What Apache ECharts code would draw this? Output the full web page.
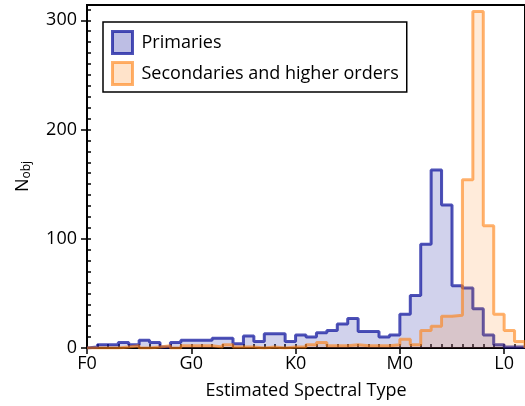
<!DOCTYPE html>
<html>
<head>
<meta charset="utf-8">
<script src="https://cdn.jsdelivr.net/npm/echarts@6/dist/echarts.min.js"></script>
<style>
html,body{margin:0;padding:0;background:#fff;}
#c{width:525px;height:406px;}
</style>
</head>
<body>
<div id="c"></div>
<script>
// Spectral subtype bins: F0 = 0, G0 = 10, K0 = 20, M0 = 30, L0 = 40 (1 subtype per bin)
const tickValues = [0, 10, 20, 30, 40];
const tickLabels = ['F0', 'G0', 'K0', 'M0', 'L0'];
const binStart = 0;
const binWidth = 1;
const primaries = [1, 3, 3, 5, 3, 7, 5, 1, 5, 7, 7, 7, 9, 9, 4, 11, 6, 13, 13, 6,
  12, 10, 14, 16, 22, 27, 15, 15, 10, 12, 31, 48, 95, 163, 131, 57, 55, 36, 12, 3, 1, 1];
const secondaries = [0, 0, 0, 1, 2, 0, 1, 2, 0, 2, 2, 2, 1, 3, 1, 1, 0, 1, 0, 1,
  1, 3, 5, 2, 2, 3, 2, 2, 2, 3, 8, 3, 16, 20, 29, 30, 154, 308, 112, 31, 16, 6];
const seriesNames = ['Primaries', 'Secondaries and higher orders'];

function stepData(vals) {
  const pts = [[binStart, 0]];
  vals.forEach((v, i) => pts.push([binStart + i * binWidth, v]));
  pts.push([binStart + vals.length * binWidth, 0]);
  return pts;
}

const FONT = 'Open Sans';
const FS = 18;
const BLUE_LINE = 'rgba(10,15,155,0.72)';
const BLUE_FILL = 'rgba(10,15,155,0.27)';
const ORANGE_LINE = 'rgba(255,127,14,0.6)';
const ORANGE_FILL = 'rgba(255,127,14,0.22)';
const chart = echarts.init(document.getElementById('c'));
const labelMap = {};
tickValues.forEach((v, i) => labelMap[v] = tickLabels[i]);

chart.setOption({
  animation: false,
  textStyle: { fontFamily: FONT },
  grid: { left: 87, top: 5, width: 439, height: 343, show: true, borderColor: '#000', borderWidth: 2, backgroundColor: 'transparent' },
  legend: {
    orient: 'vertical', left: 103, top: 22,
    borderColor: '#000', borderWidth: 1.5, borderRadius: 0,
    padding: [8, 8, 6, 8], itemGap: 6, itemWidth: 20, itemHeight: 22,
    textStyle: { fontSize: FS, lineHeight: 22, color: '#000', fontFamily: FONT, padding: [0, 0, 0, 4] },
    data: [
      { name: seriesNames[0], icon: 'rect', itemStyle: { color: BLUE_FILL, borderColor: BLUE_LINE, borderWidth: 3 } },
      { name: seriesNames[1], icon: 'rect', itemStyle: { color: ORANGE_FILL, borderColor: ORANGE_LINE, borderWidth: 3 } }
    ]
  },
  xAxis: [{
    type: 'value', min: 0, max: 42, interval: 10,
    name: 'Estimated Spectral Type', nameLocation: 'middle', nameGap: 34,
    nameTextStyle: { fontSize: FS, color: '#000', fontFamily: FONT },
    axisLine: { lineStyle: { color: '#000', width: 2 } },
    axisTick: { show: true, length: 6, lineStyle: { color: '#000', width: 1.5 } },
    axisLabel: { fontSize: FS, color: '#000', margin: 7, fontFamily: FONT, formatter: v => labelMap[v] || '', showMaxLabel: false },
    splitLine: { show: false }
  }, {
    type: 'value', min: 0, max: 42, interval: 1, position: 'bottom',
    axisLine: { show: false },
    axisTick: { show: true, inside: true, length: 4, lineStyle: { color: '#000', width: 1.5 } },
    axisLabel: { show: false }, splitLine: { show: false }
  }],
  yAxis: [{
    type: 'value', min: 0, max: 314, interval: 100,
    name: 'N{sub|obj}', nameLocation: 'middle', nameGap: 54, nameRotate: 90,
    nameTextStyle: { fontSize: FS, color: '#000', fontFamily: FONT, rich: { sub: { fontSize: 12, verticalAlign: 'bottom', padding: [8, 0, 0, 0], fontFamily: FONT } } },
    axisLine: { show: true, lineStyle: { color: '#000', width: 2 } },
    axisTick: { show: true, length: 6, lineStyle: { color: '#000', width: 1.5 } },
    axisLabel: { fontSize: FS, color: '#000', margin: 10, fontFamily: FONT, showMaxLabel: false },
    splitLine: { show: false }
  }, {
    type: 'value', min: 0, max: 314, interval: 10, position: 'left',
    axisLine: { show: false },
    axisTick: { show: true, inside: true, length: 4, lineStyle: { color: '#000', width: 1.5 } },
    axisLabel: { show: false }, splitLine: { show: false }
  }],
  series: [{
    name: seriesNames[0], type: 'line', step: 'end', showSymbol: false,
    data: stepData(primaries),
    lineStyle: { color: BLUE_LINE, width: 3 },
    itemStyle: { color: BLUE_LINE },
    areaStyle: { color: BLUE_FILL, origin: 'start' },
    z: 2
  }, {
    name: seriesNames[1], type: 'line', step: 'end', showSymbol: false,
    data: stepData(secondaries),
    lineStyle: { color: ORANGE_LINE, width: 3 },
    itemStyle: { color: ORANGE_LINE },
    areaStyle: { color: ORANGE_FILL, origin: 'start' },
    z: 3
  }]
});
</script>
</body>
</html>
